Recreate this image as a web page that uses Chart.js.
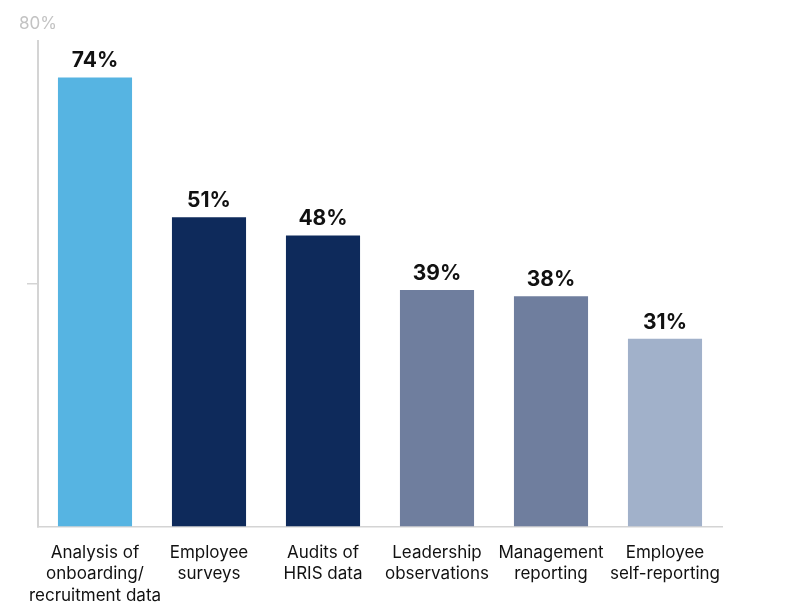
<!DOCTYPE html>
<html>
<head>
<meta charset="utf-8">
<script src="https://cdn.jsdelivr.net/npm/chart.js@4"></script>
<style>
html,body{margin:0;padding:0;background:#fff;}
#wrap{width:810px;height:608px;position:relative;}
</style>
</head>
<body>
<div id="wrap"><canvas id="c" width="810" height="608"></canvas></div>
<script>
const categories = [
  ["Analysis of", "onboarding/", "recruitment data"],
  ["Employee", "surveys"],
  ["Audits of", "HRIS data"],
  ["Leadership", "observations"],
  ["Management", "reporting"],
  ["Employee", "self-reporting"]
];
const values = [74, 51, 48, 39, 38, 31];
const barColors = ["#56b4e2", "#0e2a5b", "#0e2a5b", "#6f7e9e", "#6f7e9e", "#a1b1ca"];
const yTickLabel = "80%";

const FONT = "Inter, 'Liberation Sans', sans-serif";

const labelPlugin = {
  id: 'labels',
  afterDatasetsDraw(chart) {
    const ctx = chart.ctx;
    const meta = chart.getDatasetMeta(0);
    ctx.save();
    ctx.fillStyle = '#111';
    ctx.font = "bold 21px " + FONT;
    ctx.textAlign = 'center';
    ctx.textBaseline = 'alphabetic';
    meta.data.forEach((bar, i) => {
      ctx.fillText(values[i] + '%', bar.x, bar.y - 10);
    });
    const ys = chart.scales.y;
    ctx.fillStyle = '#c3c3c3';
    ctx.font = "17px " + FONT;
    ctx.textAlign = 'center';
    ctx.fillText(yTickLabel, ys.right, ys.getPixelForValue(80) - 12);
    ctx.restore();
  }
};

new Chart(document.getElementById('c'), {
  type: 'bar',
  data: {
    labels: categories,
    datasets: [{
      data: values,
      backgroundColor: barColors,
      borderWidth: 0,
      barPercentage: 0.65,
      categoryPercentage: 1
    }]
  },
  options: {
    responsive: false,
    animation: false,
    devicePixelRatio: 1,
    layout: { padding: { left: 27, right: 88, top: 41, bottom: 0 } },
    plugins: { legend: { display: false }, tooltip: { enabled: false } },
    scales: {
      x: {
        afterFit: (s) => { s.height = 81; },
        grid: { display: false, drawTicks: false },
        border: { display: true, color: '#d4d4d4', width: 1.5 },
        ticks: {
          color: '#111',
          font: { family: FONT, size: 17, lineHeight: 1.27 },
          padding: 15,
          maxRotation: 0,
          autoSkip: false
        }
      },
      y: {
        min: 0, max: 80,
        ticks: { display: false, stepSize: 40 },
        grid: {
          drawOnChartArea: false,
          drawTicks: true,
          tickLength: 11,
          color: (c) => (c.tick && c.tick.value === 40) ? '#d4d4d4' : 'rgba(0,0,0,0)',
          lineWidth: 1.5
        },
        border: { display: true, color: '#d4d4d4', width: 2 }
      }
    }
  },
  plugins: [labelPlugin]
});
</script>
</body>
</html>
